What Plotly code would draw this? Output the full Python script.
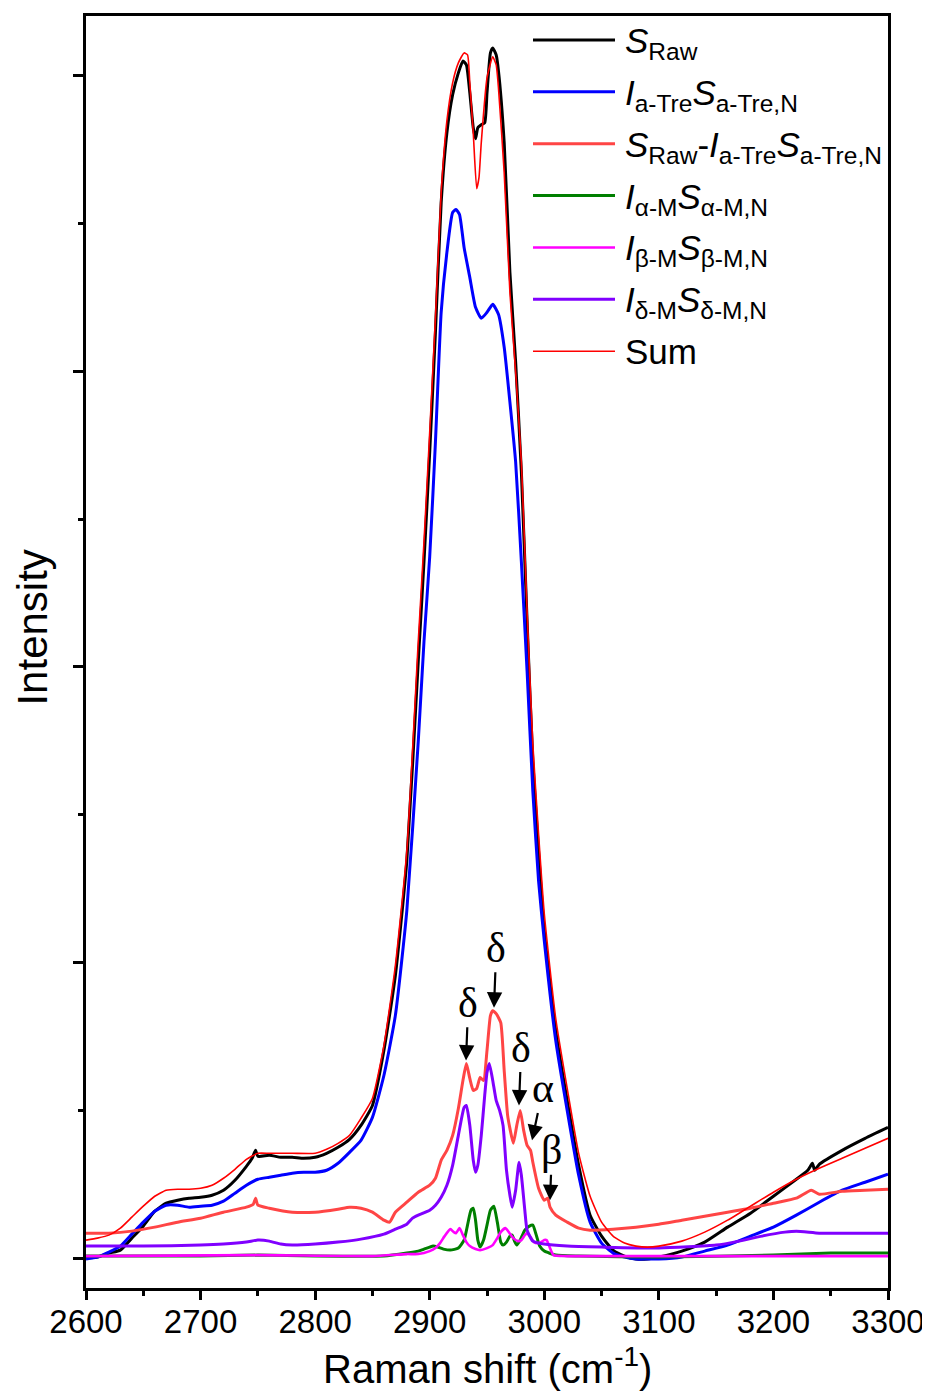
import plotly.graph_objects as go

# ---------------- data (Raman shift in cm^-1, intensity in arbitrary units) ----------------
wn_raw = [2600, 2610, 2620, 2630, 2640, 2650, 2660, 2670, 2680, 2690, 2700, 2710, 2720, 2730, 2740,
          2745, 2748, 2750, 2760, 2770, 2780, 2790, 2800, 2810, 2820, 2830, 2840, 2850, 2860, 2870,
          2880, 2890, 2895, 2900, 2905, 2910, 2915, 2920, 2925, 2929, 2932, 2935, 2938, 2940, 2942,
          2945, 2948, 2950, 2953, 2955, 2958, 2960, 2965, 2970, 2975, 2980, 2985, 2990, 2995, 3000,
          3010, 3020, 3030, 3040, 3050, 3060, 3070, 3080, 3090, 3100, 3120, 3140, 3160, 3180, 3200,
          3220, 3230, 3234, 3236, 3240, 3260, 3280, 3300]
int_raw = [0, 10, 50, 80, 200, 320, 470, 550, 580, 600, 610, 630, 680, 780, 920,
           1000, 1080, 1020, 1030, 1010, 1010, 1000, 1010, 1050, 1110, 1190, 1330, 1530, 2080, 2830,
           3980, 5980, 6980, 8080, 9280, 10580, 11280, 11660, 11880, 12000, 11960, 11680, 11330, 11220, 11330,
           11360, 11380, 11680, 12080, 12130, 12060, 11900, 11180, 9880, 8980, 7880, 6380, 4980, 4080, 3280,
           2280, 1580, 930, 430, 220, 80, 20, -10, -10, 10, 70, 160, 310, 450, 620,
           790, 880, 950, 880, 940, 1080, 1200, 1310]

wn_tre = [2600, 2610, 2620, 2630, 2640, 2650, 2660, 2670, 2680, 2690, 2700, 2710, 2720, 2730, 2740,
          2750, 2760, 2770, 2780, 2790, 2800, 2810, 2820, 2830, 2840, 2850, 2860, 2870, 2880, 2890,
          2895, 2900, 2905, 2910, 2915, 2920, 2923, 2926, 2930, 2935, 2940, 2945, 2950, 2955, 2960,
          2965, 2970, 2975, 2980, 2985, 2990, 2995, 3000, 3010, 3020, 3030, 3040, 3050, 3060, 3070,
          3080, 3090, 3100, 3120, 3140, 3160, 3180, 3200, 3220, 3240, 3260, 3280, 3300]
int_tre = [-10, 10, 60, 120, 240, 360, 470, 530, 530, 510, 520, 530, 570, 650, 730,
           790, 810, 830, 850, 860, 860, 880, 950, 1060, 1180, 1410, 1830, 2430, 3480, 5180,
           6180, 7030, 8180, 9480, 10080, 10480, 10510, 10460, 10130, 9830, 9530, 9420, 9480, 9560, 9460,
           9130, 8580, 7980, 6980, 5880, 4680, 3780, 3180, 2180, 1480, 830, 360, 150, 50, 10,
           -10, -10, -10, 10, 70, 130, 220, 310, 430, 560, 680, 760, 840]

wn_diff = [2600, 2620, 2640, 2660, 2680, 2700, 2720, 2740, 2746, 2748, 2750, 2760, 2780, 2800, 2820,
           2830, 2840, 2850, 2860, 2865, 2870, 2880, 2890, 2900, 2905, 2910, 2915, 2920, 2925, 2929,
           2932, 2935, 2938, 2941, 2944, 2947, 2950, 2953, 2955, 2958, 2962, 2965, 2968, 2970, 2973,
           2976, 2979, 2982, 2985, 2988, 2990, 2995, 3000, 3003, 3005, 3010, 3020, 3030, 3040, 3060,
           3080, 3100, 3120, 3140, 3160, 3180, 3200, 3220, 3233, 3240, 3260, 3280, 3300]
int_diff = [250, 250, 270, 310, 360, 400, 460, 510, 540, 600, 530, 500, 460, 460, 490,
            510, 500, 460, 380, 360, 460, 560, 660, 730, 800, 980, 1080, 1230, 1500, 1780,
            1950, 1800, 1680, 1700, 1810, 1780, 2080, 2430, 2480, 2450, 2360, 1880, 1430, 1300, 1150,
            1330, 1480, 1280, 1130, 1080, 960, 700, 580, 600, 510, 430, 360, 300, 280, 290,
            310, 340, 380, 420, 460, 500, 550, 600, 680, 640, 670, 680, 690]

wn_alpha = [2600, 2700, 2750, 2800, 2860, 2880, 2890, 2895, 2900, 2903, 2907, 2912, 2918, 2925, 2930,
            2933, 2936, 2938, 2940, 2942, 2944, 2947, 2950, 2953, 2956, 2959, 2962, 2964, 2967, 2970,
            2972, 2974, 2976, 2979, 2983, 2987, 2990, 2993, 2996, 3000, 3010, 3030, 3100, 3200, 3250, 3300]
int_alpha = [20, 20, 30, 20, 20, 50, 70, 90, 110, 120, 110, 90, 80, 100, 180,
             330, 480, 500, 380, 180, 110, 180, 330, 480, 520, 360, 160, 130, 160, 220,
             230, 170, 130, 180, 280, 320, 330, 230, 120, 70, 30, 20, 10, 30, 50, 50]

wn_beta = [2600, 2750, 2850, 2880, 2890, 2900, 2905, 2909, 2913, 2918, 2921, 2923, 2926, 2929, 2932,
           2935, 2940, 2944, 2950, 2955, 2959, 2962, 2966, 2969, 2973, 2977, 2980, 2983, 2985, 2988,
           2991, 2994, 2997, 3000, 3002, 3005, 3008, 3020, 3300]
int_beta = [20, 30, 20, 40, 40, 70, 100, 150, 220, 290, 260, 250, 300, 230, 160,
            120, 90, 80, 100, 130, 200, 260, 300, 260, 200, 170, 180, 230, 250, 210,
            160, 150, 160, 180, 180, 100, 30, 20, 20]

wn_delta = [2600, 2650, 2700, 2720, 2740, 2750, 2760, 2770, 2780, 2800, 2820, 2840, 2860, 2870, 2880,
            2885, 2890, 2900, 2905, 2910, 2915, 2920, 2925, 2930, 2932, 2935, 2938, 2940, 2942, 2945,
            2948, 2950, 2952, 2955, 2958, 2961, 2964, 2967, 2970, 2972, 2975, 2978, 2980, 2983, 2985,
            2990, 3000, 3020, 3050, 3100, 3150, 3170, 3190, 3210, 3220, 3240, 3260, 3300]
int_delta = [120, 120, 130, 140, 160, 180, 170, 140, 130, 140, 160, 190, 240, 290, 340,
             400, 430, 480, 530, 610, 730, 930, 1230, 1510, 1530, 1330, 980, 860, 930, 1230,
             1630, 1860, 1950, 1780, 1580, 1480, 1330, 880, 630, 510, 680, 960, 830, 480, 280,
             170, 140, 120, 110, 100, 130, 170, 220, 260, 270, 250, 250, 250]

wn_sum = [2600, 2610, 2620, 2630, 2640, 2650, 2660, 2670, 2680, 2690, 2700, 2710, 2720, 2730, 2740,
          2750, 2760, 2780, 2800, 2810, 2820, 2830, 2840, 2850, 2860, 2870, 2880, 2890, 2895, 2900,
          2905, 2910, 2915, 2920, 2925, 2930, 2933, 2935, 2938, 2941, 2943, 2945, 2950, 2955, 2958,
          2960, 2965, 2970, 2975, 2980, 2985, 2990, 2995, 3000, 3010, 3020, 3030, 3040, 3050, 3060,
          3070, 3080, 3090, 3100, 3120, 3140, 3160, 3180, 3200, 3220, 3240, 3260, 3280, 3300]
int_sum = [180, 200, 230, 300, 410, 520, 620, 680, 690, 690, 700, 730, 800, 890, 990,
           1050, 1050, 1050, 1050, 1090, 1150, 1230, 1400, 1600, 2130, 2930, 4080, 6180, 7180, 8280,
           9430, 10680, 11400, 11780, 11980, 12080, 12060, 11780, 11280, 10720, 10830, 11180, 11830, 12040, 11960,
           11730, 10880, 9680, 8880, 7980, 6480, 5150, 4250, 3450, 2400, 1700, 1050, 620, 360, 220,
           150, 120, 110, 120, 170, 260, 380, 520, 660, 790, 900, 1000, 1100, 1200]

x_ticks = [2600, 2700, 2800, 2900, 3000, 3100, 3200, 3300]
x_minor_ticks = [2650, 2750, 2850, 2950, 3050, 3150, 3250]

legend_labels = [
    "<i>S</i><sub>Raw</sub>",
    "<i>I</i><sub>a-Tre</sub><i>S</i><sub>a-Tre,N</sub>",
    "<i>S</i><sub>Raw</sub>-<i>I</i><sub>a-Tre</sub><i>S</i><sub>a-Tre,N</sub>",
    "<i>I</i><sub>α-M</sub><i>S</i><sub>α-M,N</sub>",
    "<i>I</i><sub>β-M</sub><i>S</i><sub>β-M,N</sub>",
    "<i>I</i><sub>δ-M</sub><i>S</i><sub>δ-M,N</sub>",
    "Sum",
]

# peak labels: (label, text x, text y, arrow head x, head y)
peak_labels = [
    ("δ", 2933.6, 2560, 2931.7, 1980),
    ("δ", 2958.1, 3110, 2956.1, 2510),
    ("δ", 2979.9, 2110, 2977.9, 1530),
    ("α", 2998.9, 1700, 2989.3, 1180),
    ("β", 3006.7, 1080, 3005.0, 580),
]

# ---------------- figure ----------------
series = [
    (wn_raw, int_raw, "#000000", 3.0, legend_labels[0]),
    (wn_tre, int_tre, "#0000FF", 3.0, legend_labels[1]),
    (wn_diff, int_diff, "#FF4545", 3.0, legend_labels[2]),
    (wn_alpha, int_alpha, "#007F00", 3.0, legend_labels[3]),
    (wn_beta, int_beta, "#FF00FF", 2.6, legend_labels[4]),
    (wn_delta, int_delta, "#8000FF", 3.0, legend_labels[5]),
    (wn_sum, int_sum, "#FF0000", 1.6, legend_labels[6]),
]

fig = go.Figure()
for xs, ys, col, w, name in series:
    fig.add_trace(go.Scatter(x=xs, y=ys, mode="lines", name=name, showlegend=False,
                             line=dict(color=col, width=w, shape="spline", smoothing=0.5)))

# page body has an 8px margin: figure is laid out in window pixels minus that offset
OFF = 8
W, H = 930 - OFF, 1393 - OFF
PL, PR, PT, PB = 86, 888, 13, 1288          # plot area in window pixels
ML, MT = PL - OFF, PT - OFF
MR, MB = W - (PR - OFF), H - (PB - OFF)
PW, PH = PR - PL, PB - PT


def px2paper(px, py):
    return (px - PL) / PW, (PB - py) / PH


FONT = "Liberation Sans, Arial"
shapes = []
annotations = []
# manual legend
row_y = [37, 89, 141, 193, 245, 297, 349]
for i, (xs, ys, col, w, name) in enumerate(series):
    x0, y0 = px2paper(533, row_y[i])
    x1, _ = px2paper(615, row_y[i])
    shapes.append(dict(type="line", xref="paper", yref="paper", x0=x0, x1=x1, y0=y0, y1=y0,
                       line=dict(color=col, width=w)))
    tx, ty = px2paper(623, row_y[i])
    has_sub = "<sub>" in name
    annotations.append(dict(xref="paper", yref="paper", x=tx, y=ty, text=name, showarrow=False,
                            xanchor="left", yanchor="middle", yshift=-3 if has_sub else 0,
                            font=dict(family=FONT, size=35, color="black")))

for lab, tx, ty, hx, hy in peak_labels:
    annotations.append(dict(x=hx, y=hy, xref="x", yref="y", ax=tx, ay=ty, axref="x", ayref="y",
                            text=lab, showarrow=True, arrowhead=2, arrowsize=1.4, arrowwidth=2.2,
                            arrowcolor="black", standoff=0, startstandoff=0,
                            font=dict(family="Liberation Serif, Times New Roman", size=42, color="black")))

# axis titles
tx, ty = px2paper(487, 1366)
annotations.append(dict(xref="paper", yref="paper", x=tx, y=ty, showarrow=False,
                        text="Raman shift (cm<sup>-1</sup>)", xanchor="center", yanchor="middle",
                        font=dict(family=FONT, size=40, color="black")))
tx, ty = px2paper(33, 626)
annotations.append(dict(xref="paper", yref="paper", x=tx, y=ty, showarrow=False, textangle=-90,
                        text="Intensity", xanchor="center", yanchor="middle",
                        font=dict(family=FONT, size=42, color="black")))

fig.update_layout(
    width=W, height=H,
    margin=dict(l=ML, r=MR, t=MT, b=MB, pad=0),
    paper_bgcolor="white", plot_bgcolor="white",
    shapes=shapes, annotations=annotations,
    xaxis=dict(range=[2600, 3300], tickvals=x_ticks, ticktext=[str(v) for v in x_ticks],
               ticks="outside", ticklen=9, tickwidth=2.5, tickcolor="black",
               ticklabelstandoff=-6,
               showline=True, linecolor="black", linewidth=2.5, mirror=True,
               showgrid=False, zeroline=False,
               tickfont=dict(family=FONT, size=33, color="black"),
               minor=dict(tickvals=x_minor_ticks, ticks="outside",
                          ticklen=5, tickwidth=2.5, tickcolor="black", showgrid=False)),
    yaxis=dict(range=[-300, 12450], tick0=0, dtick=2962.5,
               ticks="outside", ticklen=10, tickwidth=2.5, tickcolor="black",
               showticklabels=False,
               showline=True, linecolor="black", linewidth=2.5, mirror=True,
               showgrid=False, zeroline=False,
               minor=dict(tick0=0, dtick=1481.25, ticks="outside", ticklen=5, tickwidth=2.5,
                          tickcolor="black", showgrid=False)),
)

fig.write_html("out.html")
